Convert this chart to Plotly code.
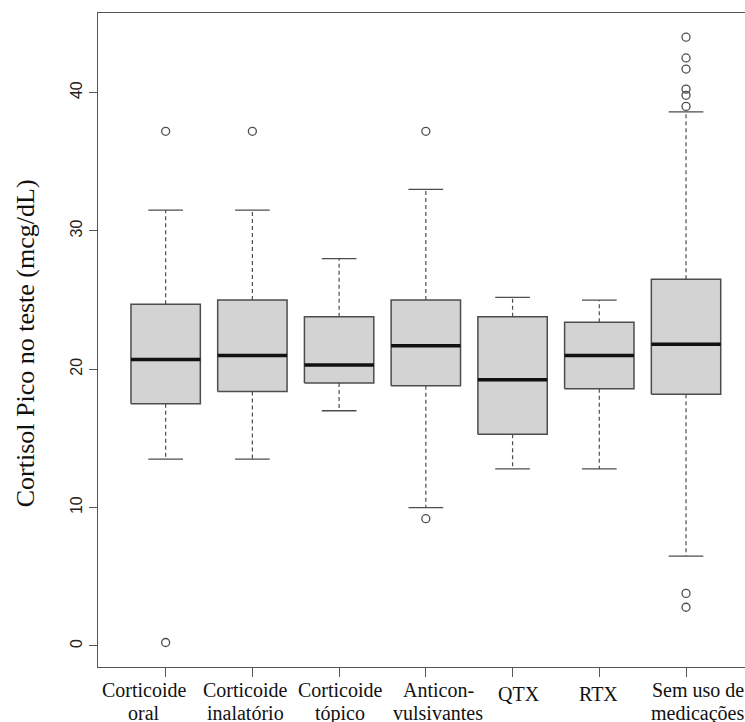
import plotly.graph_objects as go

categories = ["Corticoide\noral", "Corticoide\ninalatório", "Corticoide\ntópico",
              "Anticon-\nvulsivantes", "QTX", "RTX", "Sem uso de\nmedicações"]
q1 = [17.5, 18.4, 19.0, 18.8, 15.3, 18.6, 18.2]
median = [20.7, 21.0, 20.3, 21.7, 19.25, 21.0, 21.8]
q3 = [24.7, 25.0, 23.8, 25.0, 23.8, 23.4, 26.5]
lower_whisker = [13.5, 13.5, 17.0, 10.0, 12.8, 12.8, 6.5]
upper_whisker = [31.5, 31.5, 28.0, 33.0, 25.2, 25.0, 38.6]
outliers = [
    [37.2, 0.25],
    [37.2],
    [],
    [37.2, 9.2],
    [],
    [],
    [44.0, 42.5, 41.7, 40.25, 39.8, 39.0, 3.8, 2.8],
]
y_ticks = [0, 10, 20, 30, 40]

# layout-only tweaks (label horizontal offsets in px, as in the original figure)
label_xshift = [-21.5, -7, 1, 12.5, 6.5, -1, 11.5]

BOX_HALF = 0.4
CAP_HALF = 0.2
LINE = "#4d4d4d"
FRAME = "#555555"

positions = list(range(1, len(categories) + 1))

fig = go.Figure()

# boxes
bx, by = [], []
for p, a, b in zip(positions, q1, q3):
    bx += [p - BOX_HALF, p + BOX_HALF, p + BOX_HALF, p - BOX_HALF, p - BOX_HALF, None]
    by += [a, a, b, b, a, None]
fig.add_trace(go.Scatter(x=bx, y=by, mode="lines", fill="toself", fillcolor="#d3d3d3",
                         line=dict(color=LINE, width=1.5), hoverinfo="skip"))

# whiskers (dashed)
wx, wy = [], []
for p, a, b, lo, hi in zip(positions, q1, q3, lower_whisker, upper_whisker):
    wx += [p, p, None, p, p, None]
    wy += [b, hi, None, a, lo, None]
fig.add_trace(go.Scatter(x=wx, y=wy, mode="lines",
                         line=dict(color=LINE, width=1.2, dash="4px,3px"), hoverinfo="skip"))

# caps
cx, cy = [], []
for p, lo, hi in zip(positions, lower_whisker, upper_whisker):
    cx += [p - CAP_HALF, p + CAP_HALF, None, p - CAP_HALF, p + CAP_HALF, None]
    cy += [hi, hi, None, lo, lo, None]
fig.add_trace(go.Scatter(x=cx, y=cy, mode="lines",
                         line=dict(color=LINE, width=1.3), hoverinfo="skip"))

# medians
mx, my = [], []
for p, m in zip(positions, median):
    mx += [p - BOX_HALF, p + BOX_HALF, None]
    my += [m, m, None]
fig.add_trace(go.Scatter(x=mx, y=my, mode="lines",
                         line=dict(color="#111111", width=3.5), hoverinfo="skip"))

# outliers
ox, oy = [], []
for p, vals in zip(positions, outliers):
    for v in vals:
        ox.append(p)
        oy.append(v)
fig.add_trace(go.Scatter(x=ox, y=oy, mode="markers",
                         marker=dict(symbol="circle-open", size=8, color=LINE,
                                     line=dict(width=1.3, color=LINE))))

# category labels (two lines, tight spacing like the original)
annotations = []
label_font = dict(family="Liberation Serif", size=20, color="#111111")
for p, lab, dx in zip(positions, categories, label_xshift):
    lines = lab.split("\n")
    if len(lines) == 1:
        annotations.append(dict(text=lines[0], x=p, y=0, xref="x", yref="paper",
                                xanchor="center", yanchor="top", yshift=-13.5, xshift=dx,
                                showarrow=False, font=label_font))
    else:
        for k, ln in enumerate(lines):
            annotations.append(dict(text=ln, x=p, y=0, xref="x", yref="paper",
                                    xanchor="center", yanchor="top",
                                    yshift=-10 - 23 * k, xshift=dx,
                                    showarrow=False, font=label_font))

annotations.append(dict(text="Cortisol Pico no teste (mcg/dL)", xref="paper", yref="paper",
                        x=-0.1128, y=0.495, xanchor="center", yanchor="middle",
                        textangle=-90, showarrow=False,
                        font=dict(family="Liberation Serif", size=26, color="#111111")))

fig.update_layout(
    width=745, height=722,
    margin=dict(l=98, r=0, t=13, b=55),
    paper_bgcolor="white", plot_bgcolor="white",
    showlegend=False,
    xaxis=dict(range=[0.22, 7.68], tickvals=positions, ticktext=[""] * len(positions),
               showgrid=False, zeroline=False, showline=True, mirror=True,
               linecolor=FRAME, linewidth=1.3,
               ticks="outside", ticklen=9, tickcolor=FRAME, tickwidth=1.3),
    yaxis=dict(range=[-1.52, 45.75], tickvals=y_ticks,
               showgrid=False, zeroline=False, showline=True, mirror=False,
               linecolor=FRAME, linewidth=1.3,
               ticks="outside", ticklen=8, tickcolor=FRAME, tickwidth=1.3,
               tickfont=dict(family="Liberation Sans", size=16, color="#222222"),
               tickangle=-90),
    annotations=annotations,
)

fig.write_html("out.html", config={"displayModeBar": False},
               post_script="document.body.style.margin='0px';")
